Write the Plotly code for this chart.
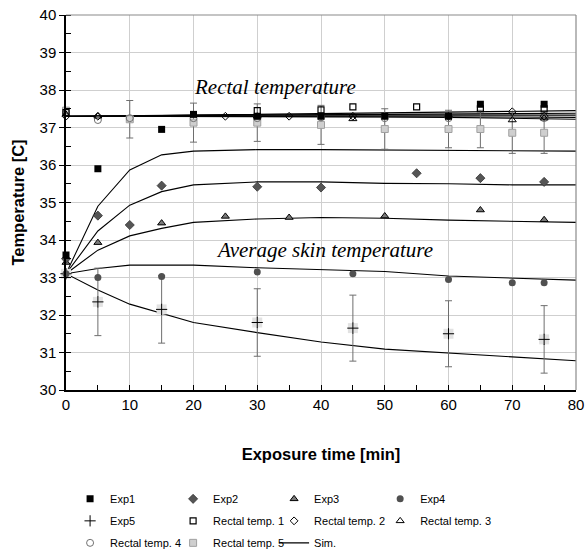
import plotly.graph_objects as go

# ---------------- data ----------------
exp1_t = [0, 5, 15, 20, 30, 40, 50, 60, 65, 75]
exp1_v = [33.6, 35.9, 36.95, 37.35, 37.3, 37.3, 37.3, 37.3, 37.62, 37.62]

exp2_t = [0, 5, 10, 15, 30, 40, 55, 65, 75]
exp2_v = [33.5, 34.65, 34.4, 35.45, 35.42, 35.4, 35.78, 35.65, 35.55]

exp3_t = [0, 5, 15, 25, 35, 50, 65, 75]
exp3_v = [33.4, 33.93, 34.45, 34.63, 34.6, 34.64, 34.8, 34.54]

exp4_t = [0, 5, 15, 30, 45, 60, 70, 75]
exp4_v = [33.1, 33.0, 33.03, 33.15, 33.1, 32.95, 32.86, 32.86]

exp5_t = [0, 5, 15, 30, 45, 60, 75]
exp5_v = [33.1, 32.35, 32.15, 31.8, 31.65, 31.5, 31.35]
exp5_err = [0, 0.9, 0.9, 0.9, 0.88, 0.88, 0.9]

rect1_t = [0, 30, 40, 45, 55, 65, 75]
rect1_v = [37.4, 37.45, 37.47, 37.55, 37.55, 37.5, 37.5]

rect2_t = [0, 5, 25, 35, 45, 60, 70, 75]
rect2_v = [37.3, 37.3, 37.3, 37.3, 37.3, 37.3, 37.42, 37.3]

rect3_t = [0, 5, 30, 45, 70, 75]
rect3_v = [37.35, 37.3, 37.3, 37.23, 37.2, 37.25]

rect4_t = [0, 5, 10, 20, 30, 40, 50, 60, 75]
rect4_v = [37.4, 37.2, 37.25, 37.25, 37.25, 37.27, 37.25, 37.25, 37.25]

rect5_t = [0, 10, 20, 30, 40, 50, 60, 65, 70, 75]
rect5_v = [37.45, 37.22, 37.13, 37.13, 37.07, 36.96, 36.96, 36.96, 36.86, 36.86]
rect5_err = [0, 0.5, 0.52, 0.5, 0.52, 0.54, 0.5, 0.5, 0.55, 0.55]

sim_t = [0, 5, 10, 15, 20, 30, 40, 50, 60, 70, 80]
sim_skin = [
    [33.1, 34.9, 35.87, 36.27, 36.37, 36.41, 36.41, 36.4, 36.38, 36.37, 36.37],
    [33.1, 34.24, 34.93, 35.29, 35.47, 35.55, 35.55, 35.51, 35.5, 35.47, 35.47],
    [33.1, 33.73, 34.11, 34.31, 34.47, 34.56, 34.6, 34.58, 34.53, 34.49, 34.47],
    [33.1, 33.24, 33.33, 33.33, 33.33, 33.26, 33.22, 33.16, 33.04, 32.98, 32.93],
    [33.1, 32.67, 32.29, 32.04, 31.8, 31.53, 31.28, 31.09, 30.98, 30.87, 30.78],
]
sim_rect = [
    [37.3, 37.3, 37.31, 37.32, 37.33, 37.35, 37.37, 37.39, 37.41, 37.43, 37.45],
    [37.3, 37.3, 37.3, 37.31, 37.32, 37.33, 37.34, 37.35, 37.36, 37.37, 37.38],
    [37.3, 37.31, 37.32, 37.32, 37.33, 37.33, 37.33, 37.33, 37.33, 37.33, 37.33],
    [37.3, 37.3, 37.3, 37.3, 37.3, 37.3, 37.29, 37.29, 37.28, 37.28, 37.27],
    [37.3, 37.3, 37.3, 37.3, 37.3, 37.3, 37.29, 37.28, 37.27, 37.25, 37.22],
]

x_ticks = [0, 10, 20, 30, 40, 50, 60, 70, 80]
y_ticks = [30, 31, 32, 33, 34, 35, 36, 37, 38, 39, 40]

# ---------------- figure ----------------
fig = go.Figure()

# simulation lines
first = True
for s in sim_skin + sim_rect:
    fig.add_trace(go.Scatter(
        x=sim_t, y=s, mode="lines", name="Sim.",
        line=dict(color="black", width=1.1),
        legend="legend3", legendgroup="sim", showlegend=first, legendrank=3,
        hoverinfo="skip"))
    first = False

err_style = dict(type="data", color="#6e6e6e", thickness=1, width=3.5)

# Rectal temp 5 (with error bars)
fig.add_trace(go.Scatter(
    x=rect5_t, y=rect5_v, mode="markers", name="Rectal temp. 5",
    marker=dict(symbol="square", size=7, color="#cfcfcf", line=dict(color="#a0a0a0", width=1)),
    error_y=dict(array=rect5_err, **err_style),
    legend="legend2", legendgroup="r5", legendrank=3, cliponaxis=False))

# Exp5 background squares + crosses
fig.add_trace(go.Scatter(
    x=exp5_t, y=exp5_v, mode="markers", showlegend=False,
    marker=dict(symbol="square", size=10, color="#e2e2e2"),
    error_y=dict(array=exp5_err, **err_style),
    legend="legend", legendgroup="e5", cliponaxis=False, hoverinfo="skip"))
fig.add_trace(go.Scatter(
    x=exp5_t, y=exp5_v, mode="markers", name="Exp5",
    marker=dict(symbol="cross-thin", size=8, color="black", line=dict(color="black", width=1)),
    legend="legend", legendgroup="e5", legendrank=2, cliponaxis=False))

fig.add_trace(go.Scatter(
    x=rect4_t, y=rect4_v, mode="markers", name="Rectal temp. 4",
    marker=dict(symbol="circle-open", size=7, color="#707070", line=dict(width=1)),
    legend="legend", legendgroup="r4", legendrank=3, cliponaxis=False))
fig.add_trace(go.Scatter(
    x=rect3_t, y=rect3_v, mode="markers", name="Rectal temp. 3",
    marker=dict(symbol="triangle-up-open", size=7, color="black", line=dict(width=1)),
    legend="legend4", legendgroup="r3", legendrank=2, cliponaxis=False))
fig.add_trace(go.Scatter(
    x=rect2_t, y=rect2_v, mode="markers", name="Rectal temp. 2",
    marker=dict(symbol="diamond-open", size=6, color="black", line=dict(width=1)),
    legend="legend3", legendgroup="r2", legendrank=2, cliponaxis=False))
fig.add_trace(go.Scatter(
    x=rect1_t, y=rect1_v, mode="markers", name="Rectal temp. 1",
    marker=dict(symbol="square-open", size=6, color="black", line=dict(width=1.2)),
    legend="legend2", legendgroup="r1", legendrank=2, cliponaxis=False))

fig.add_trace(go.Scatter(
    x=exp4_t, y=exp4_v, mode="markers", name="Exp4",
    marker=dict(symbol="circle", size=7, color="#505050"),
    legend="legend4", legendgroup="e4", legendrank=1, cliponaxis=False))
fig.add_trace(go.Scatter(
    x=exp3_t, y=exp3_v, mode="markers", name="Exp3",
    marker=dict(symbol="triangle-up", size=7, color="#7a7a7a", line=dict(color="black", width=1)),
    legend="legend3", legendgroup="e3", legendrank=1, cliponaxis=False))
fig.add_trace(go.Scatter(
    x=exp2_t, y=exp2_v, mode="markers", name="Exp2",
    marker=dict(symbol="diamond", size=7, color="#555555", line=dict(color="#333333", width=0.8)),
    legend="legend2", legendgroup="e2", legendrank=1, cliponaxis=False))
fig.add_trace(go.Scatter(
    x=exp1_t, y=exp1_v, mode="markers", name="Exp1",
    marker=dict(symbol="square", size=7, color="black"),
    legend="legend", legendgroup="e1", legendrank=1, cliponaxis=False))

# text annotations
fig.add_annotation(x=32.8, y=38.07, text="Rectal temperature", showarrow=False,
                   font=dict(family="Liberation Serif", size=21, color="black", style="italic"))
fig.add_annotation(x=40.6, y=33.73, text="Average skin temperature", showarrow=False,
                   font=dict(family="Liberation Serif", size=21, color="black", style="italic"))

# gray frame on top and right
fig.add_shape(type="line", xref="paper", yref="paper", x0=0, x1=1, y0=1, y1=1,
              line=dict(color="#8a8a8a", width=1.2))
fig.add_shape(type="line", xref="paper", yref="paper", x0=1, x1=1, y0=0, y1=1,
              line=dict(color="#8a8a8a", width=1.2))

leg_common = dict(orientation="v", yref="container", y=0.132,
                  xanchor="left", yanchor="top",
                  traceorder="grouped", tracegroupgap=3,
                  font=dict(family="Liberation Sans", size=11, color="black"),
                  bgcolor="rgba(0,0,0,0)", borderwidth=0)

fig.update_layout(
    width=586, height=558,
    margin=dict(l=66, r=10, t=15, b=168, autoexpand=False),
    paper_bgcolor="white", plot_bgcolor="white",
    font=dict(family="Liberation Sans", color="black"),
    showlegend=True,
    legend=dict(x=0.008, **leg_common),
    legend2=dict(x=0.21, **leg_common),
    legend3=dict(x=0.408, **leg_common),
    legend4=dict(x=0.616, **leg_common),
    xaxis=dict(range=[0, 80], tickvals=x_ticks, ticks="inside", ticklen=5,
               tickcolor="black", showline=True, linecolor="black", linewidth=1.5,
               showgrid=True, gridcolor="#cfcfcf", gridwidth=1, zeroline=False,
               tickfont=dict(size=15, family="Liberation Sans"),
               minor=dict(dtick=5, ticks="inside", ticklen=5, tickcolor="black", showgrid=False),
               title=dict(text="<b>Exposure time [min]</b>", font=dict(size=16.5), standoff=37)),
    yaxis=dict(range=[30, 40], tickvals=y_ticks, ticks="outside", ticklen=5,
               tickcolor="black", showline=True, linecolor="black", linewidth=1.5,
               showgrid=True, gridcolor="#cfcfcf", gridwidth=1, zeroline=False,
               tickfont=dict(size=15, family="Liberation Sans"),
               minor=dict(dtick=0.5, ticks="inside", ticklen=5, tickcolor="black", showgrid=False),
               title=dict(text="<b>Temperature [C]</b>", font=dict(size=16.5), standoff=11)),
)

fig.write_html("out.html")
